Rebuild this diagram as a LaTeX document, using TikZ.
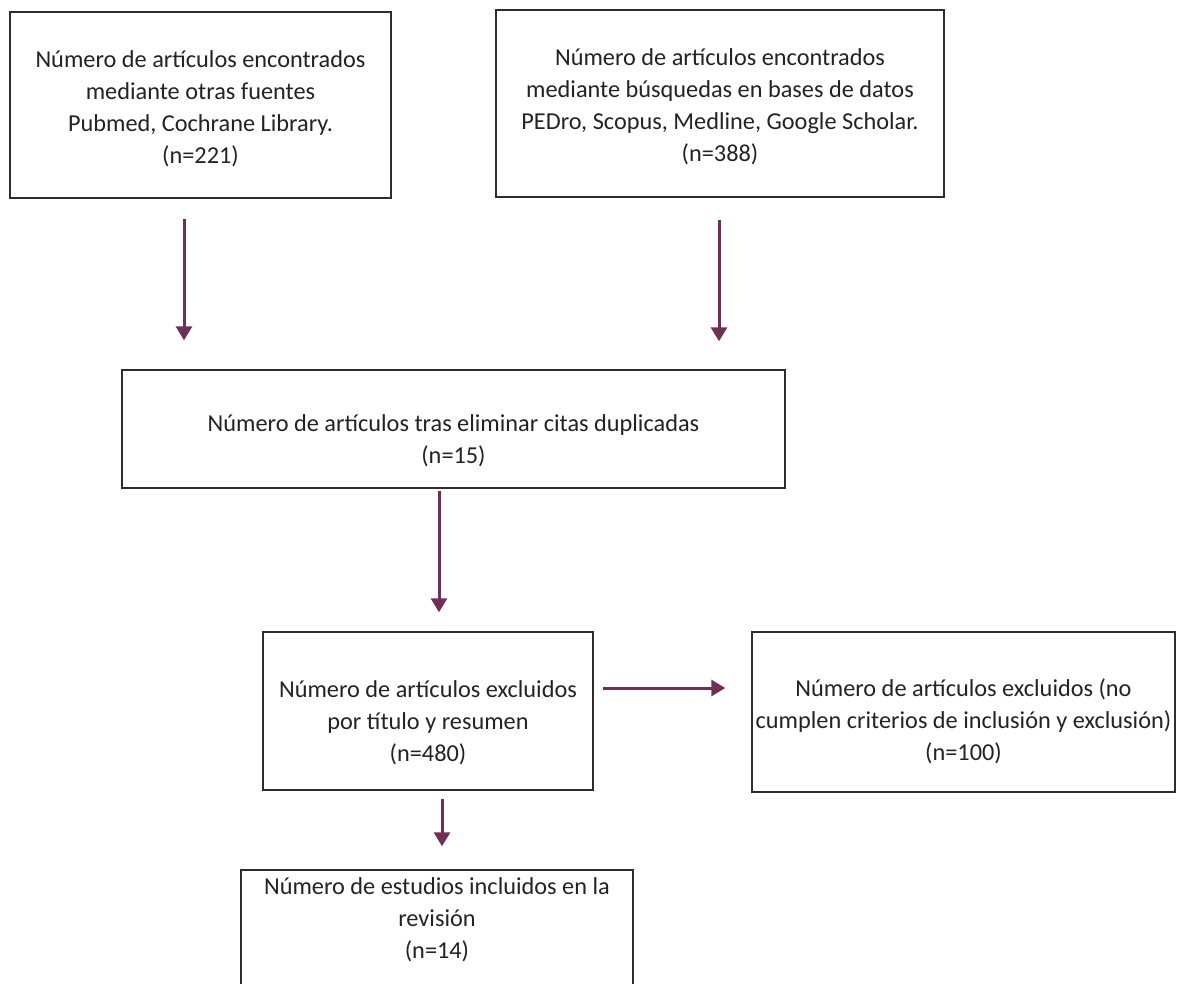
\documentclass[tikz,border=0pt]{standalone}
\usepackage{fontspec}
\setmainfont{Carlito}
\usetikzlibrary{arrows.meta}
\definecolor{arrowc}{RGB}{112,48,86}
\definecolor{boxc}{RGB}{45,45,45}
\definecolor{textc}{RGB}{35,35,35}
\newcommand{\myboxtext}[2]{\raisebox{#1}[\height][\depth]{\begin{tabular}{@{}c@{}}#2\end{tabular}}}
\tikzset{
  box/.style={draw=boxc, line width=1.4pt, rectangle, inner sep=0pt,
    font=\fontsize{24.3}{32}\selectfont, text=textc},
  arr/.style={draw=arrowc, line width=3pt, -{Triangle[width=16pt,length=14pt]}}
}
\begin{document}
\begin{tikzpicture}[x=1pt,y=-1pt]
\useasboundingbox (0,0) rectangle (1204,983);
\clip (0,0) rectangle (1204,983);
\fill[white] (0,0) rectangle (1204,983);
\node[box, minimum width=381pt, minimum height=186pt] (b1) at (200.5,105)
  {\myboxtext{-4pt}{Número de artículos encontrados\\mediante otras fuentes\\Pubmed, Cochrane Library.\\(n=221)}};
\node[box, minimum width=448pt, minimum height=187pt] (b2) at (720,103.5)
  {\myboxtext{-4pt}{Número de artículos encontrados\\mediante búsquedas en bases de datos\\PEDro, Scopus, Medline, Google Scholar.\\(n=388)}};
\node[box, minimum width=663pt, minimum height=118pt] (b3) at (453.5,429)
  {\myboxtext{-12pt}{Número de artículos tras eliminar citas duplicadas\\(n=15)}};
\node[box, minimum width=330pt, minimum height=158pt] (b4) at (428,711)
  {\myboxtext{-12pt}{Número de artículos excluidos\\por título y resumen\\(n=480)}};
\node[box, minimum width=423pt, minimum height=160pt] (b5) at (963.5,712)
  {\myboxtext{-10pt}{Número de artículos excluidos (no\\cumplen criterios de inclusión y exclusión)\\(n=100)}};
\node[box, minimum width=392pt, minimum height=130pt] (b6) at (437,935)
  {\myboxtext{15pt}{Número de estudios incluidos en la\\revisión\\(n=14)}};
\draw[arr, shorten <=20pt, shorten >=29pt] ([xshift=-16.5pt]b1.south) -- ([xshift=-16.5pt]b1.south |- b3.north);
\draw[arr, shorten <=22pt, shorten >=28pt] ([xshift=-1pt]b2.south) -- ([xshift=-1pt]b2.south |- b3.north);
\draw[arr, shorten <=2pt, shorten >=19pt] ([xshift=-14.5pt]b3.south) -- ([xshift=-14.5pt]b3.south |- b4.north);
\draw[arr, shorten <=9pt, shorten >=26pt] ([yshift=23pt]b4.east) -- ([yshift=23pt]b4.east -| b5.west);
\draw[arr, shorten <=8pt, shorten >=23pt] ([xshift=14pt]b4.south) -- ([xshift=14pt]b4.south |- b6.north);
\end{tikzpicture}
\end{document}
